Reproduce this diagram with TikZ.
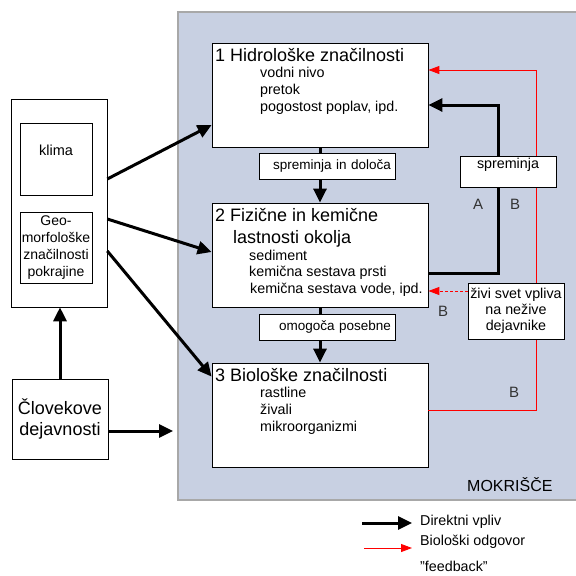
\documentclass[tikz,border=0pt]{standalone}
\usepackage{fontspec}
\setmainfont{Liberation Sans}
\usetikzlibrary{arrows.meta, positioning}
\definecolor{wetland}{HTML}{C8D0E2}
\definecolor{rim}{HTML}{A8A8A8}
\definecolor{ink}{HTML}{333333}

\begin{document}
\begin{tikzpicture}[
  x=1pt, y=-1pt,
  font=\fontsize{14}{17}\selectfont,
  panel/.style={draw=rim, line width=1.2pt, fill=wetland, minimum width=404pt,
                minimum height=488pt, inner sep=0pt},
  feat/.style={draw, fill=white, line width=0.8pt, minimum width=216pt,
               minimum height=104pt, inner sep=0pt},
  ttl/.style={anchor=base west, inner sep=0pt, align=left,
              font=\fontsize{18}{22}\selectfont},
  items/.style={anchor=base west, inner sep=0pt, align=left,
                font=\fontsize{14.3}{17}\selectfont},
  tag/.style={draw, fill=white, line width=0.8pt, minimum width=136pt,
              minimum height=26pt, text width=127pt, inner xsep=4.5pt,
              inner ysep=0pt, align=right, font=\fontsize{13.5}{16}\selectfont},
  src/.style={draw, fill=white, line width=0.6pt, inner sep=0pt, align=center},
  note/.style={draw, fill=white, line width=0.8pt, inner sep=0pt, align=center,
               font=\fontsize{14.3}{16}\selectfont},
  lett/.style={text=ink, inner sep=0pt, font=\fontsize{15}{18}\selectfont},
  arr/.style={-{Triangle[length=14pt, width=13pt]}, line width=3pt},
  fb/.style={-{Triangle[length=11pt, width=8pt]}, red, line width=0.9pt}
]
\useasboundingbox (0,0) rectangle (576,576);

%% ---------- wetland panel ----------
\node[panel] (mok) at (380,256) {};
\node[lett, text=black, font=\fontsize{16}{18}\selectfont, anchor=base west]
  (mokt) at (467,491) {MOKRIŠČE};

%% ---------- three property boxes (text placed by its last baseline) ----------
\node[feat] (hidro) at (320,95) {};
\node[ttl] (hidrot) at (215,61) {1 Hidrološke značilnosti};
\node[items] (hidroi) at (260,111) {vodni nivo\\pretok\\pogostost poplav, ipd.};

\node[feat] (fiz) at (320,255) {};
\node[ttl] (fizt) at (215,243) {2 Fizične in kemične\\\hspace*{18pt}lastnosti okolja};
\node[items, font=\fontsize{14.3}{16.5}\selectfont] (fizi) at (249,293)
  {sediment\\kemična sestava prsti\\\hspace*{1pt}kemična sestava vode, ipd.};

\node[feat] (biol) at (320,415) {};
\node[ttl] (biolt) at (215,381) {3 Biološke značilnosti};
\node[items] (bioli) at (260,431) {rastline\\živali\\mikroorganizmi};

%% ---------- left: region and people ----------
\node[src, minimum width=96pt, minimum height=208pt] (reg) at (59,203) {};
\node[src, minimum width=72pt, minimum height=72pt, text height=10pt,
  text depth=18pt, font=\fontsize{14.5}{17}\selectfont] (klima) at (56,159) {klima};
\node[src, minimum width=72pt, minimum height=71pt] (geo) at (56,247.5)
  {Geo-\\morfološke\\značilnosti\\pokrajine};
\node[src, minimum width=96pt, minimum height=80pt,
  font=\fontsize{18}{21}\selectfont] (hum) at (60,419) {Človekove\\dejavnosti};
\coordinate (entry) at (173,431);

%% ---------- direct influence ----------
\draw[arr] ([yshift=24pt]reg.east) -- ([yshift=-30pt]hidro.west);
\draw[arr] ([yshift=-16pt]reg.east) -- ([yshift=3pt]fiz.west);
\draw[arr] ([yshift=-48pt]reg.east) -- ([yshift=-14pt]biol.north west);
\draw[arr] (hum.north) -- (hum.north |- reg.south);
\draw[arr] ([yshift=-12pt]hum.east) -- (entry);
\draw[arr] (hidro.south) -- (fiz.north);
\draw[arr] (fiz.south) -- (biol.north);
\draw[arr] ([yshift=-18pt]fiz.east) -- ++(70,0) |- ([yshift=-10pt]hidro.east);

%% ---------- biological feedback ----------
\draw[fb] ([yshift=5pt]biol.east) -- ++(108,0) |- ([yshift=25pt]hidro.east);

%% ---------- labels on the flow ----------
\node[tag] (chg) at (327.5,166) {spreminja in določa};
\node[tag] (enab) at (327.5,327) {omogoča posebne};
\node[note, minimum width=96pt, minimum height=31pt, text height=10pt,
  text depth=17pt] (spr) at (508,171.5) {spreminja};
\node[note, minimum width=96pt, minimum height=56pt] (liv) at (516,311)
  {živi svet vpliva\\na nežive\\dejavnike};
\draw[fb, dash pattern=on 3pt off 2pt] ([yshift=20pt]liv.west)
  -- ([yshift=-36pt]fiz.east);

\node[lett] (la) at (478,204) {A};
\node[lett] (lb1) at (515,204) {B};
\node[lett] (lb2) at (443,311) {B};
\node[lett] (lb3) at (514,392) {B};

%% ---------- legend ----------
\coordinate (k1) at (362,523);
\coordinate (k2) at (412,523);
\coordinate (k3) at (364,548);
\coordinate (k4) at (412,548);
\draw[arr] (k1) -- (k2);
\draw[fb] (k3) -- (k4);
\node[items] (kt1) at (420,525) {Direktni vpliv};
\node[items] (kt2) at (420,545) {Biološki odgovor};
\node[items] (kt3) at (420,571) {"feedback"};
\end{tikzpicture}
\end{document}
